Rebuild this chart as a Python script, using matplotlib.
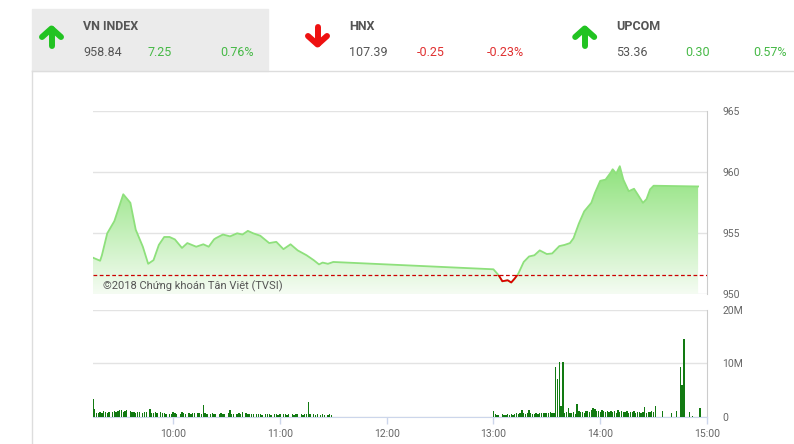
import numpy as np
import matplotlib.pyplot as plt
from matplotlib.colors import LinearSegmentedColormap
from matplotlib.patches import Rectangle
from matplotlib.lines import Line2D

plt.rcParams['font.family'] = ['Roboto', 'DejaVu Sans']

# --- header: chỉ số
idx_names = ['VN INDEX', 'HNX', 'UPCOM']
idx_values = ['958.84', '107.39', '53.36']
idx_changes = ['7.25', '-0.25', '0.30']
idx_pcts = ['0.76%', '-0.23%', '0.57%']
idx_up = [True, False, True]

prev_close = 951.59

# --- VN-Index trong phiên
price_times = ['09:15', '09:19', '09:20', '09:23', '09:27', '09:32', '09:36', '09:39',
               '09:43', '09:46', '09:49', '09:52', '09:55', '09:58', '10:01', '10:05',
               '10:08', '10:13', '10:17', '10:20', '10:23', '10:24', '10:28', '10:32',
               '10:36', '10:39', '10:42', '10:45', '10:49', '10:54', '10:58', '11:02',
               '11:06', '11:10', '11:15', '11:19', '11:22', '11:24', '11:27', '11:30',
               '13:00', '13:03', '13:05', '13:08', '13:10', '13:12', '13:14', '13:17',
               '13:20', '13:23', '13:26', '13:30', '13:33', '13:37', '13:40', '13:43',
               '13:45', '13:48', '13:51', '13:55', '13:57', '14:00', '14:03', '14:06',
               '14:07', '14:09', '14:11', '14:13', '14:16', '14:19', '14:21', '14:24',
               '14:26', '14:28', '14:30', '14:55']
price_values = [953.0, 952.75, 953.2, 955.0, 956.0, 958.2, 957.5, 955.3,
                953.9, 952.5, 952.8, 954.05, 954.7, 954.7, 954.5, 953.8,
                954.2, 953.9, 954.1, 953.9, 954.5, 954.6, 954.9, 954.75,
                955.0, 954.9, 955.2, 955.0, 954.8, 954.2, 954.3, 953.7,
                954.1, 953.6, 953.2, 952.8, 952.45, 952.6, 952.5, 952.65,
                952.05, 951.55, 951.07, 951.15, 950.97, 951.3, 951.7, 952.65,
                953.1, 953.2, 953.6, 953.3, 953.35, 953.95, 954.05, 954.2,
                954.6, 955.8, 956.8, 957.5, 958.3, 959.3, 959.4, 960.0,
                960.25, 959.9, 960.5, 959.4, 958.45, 958.65, 958.2, 957.5,
                957.8, 958.6, 958.9, 958.84]

# --- khối lượng (triệu cp), mỗi phút
vol_am_start = '09:15'
vol_am = [3.3, 1.4, 0.75, 0.75, 0.9, 0.75, 1.0, 0.8, 0.7, 0.9, 0, 0.8, 1.0, 0.85, 1.05,
          1.2, 1.25, 0.85, 1.1, 1.25, 0, 1.0, 0.8, 0.8, 0.7, 0.85, 0.8, 0, 0.7, 0.85,
          0.9, 0, 1.4, 0.6, 0.6, 0.85, 0.6, 0, 0.8, 0.6, 0.75, 0.55, 0, 0.55, 0.45,
          0.95, 0.6, 0.55, 0, 0.55, 0.8, 0.6, 0.55, 0, 0.75, 0.5, 0.6, 0.75, 0, 0.7,
          0.6, 0.5, 2.2, 0.6, 0.5, 0, 0.55, 0.6, 0.5, 0.45, 0, 0.55, 0.6, 0.5, 0.55,
          0, 0.6, 1.3, 0.5, 0.55, 0, 0.5, 0.6, 0.45, 0.8, 0, 0.6, 0.5, 0.45, 0.55,
          0.5, 0, 0.55, 0.45, 0.5, 0.4, 0, 0.5, 0.45, 0.55, 0.4, 0, 0.45, 0.5, 0.4,
          0.5, 0, 0.45, 0.55, 0.4, 0.45, 0, 0.5, 0.4, 0.45, 0.5, 0, 0.45, 0.4, 0.5,
          0.55, 2.7, 0.5, 0, 0.45, 0.4, 0.45, 0, 0.4, 0.45, 0.4, 0, 0.4, 0.45, 0.4]
vol_pm_start = '13:00'
vol_pm = [1.0, 0.5, 0.3, 0.4, 0, 0.5, 0.3, 0.4, 0.5, 0.4, 0.45, 0.4, 0.5, 0.6, 0.5,
          0.6, 1.2, 0.7, 0.5, 0.6, 1.2, 0.6, 0.5, 0.45, 0.6, 0.5, 0.7, 0.6, 0.75, 0.6,
          0.7, 0.6, 0.9, 0.7, 0.6, 9.2, 7.1, 10.3, 2.0, 10.3, 0.6, 0.8, 1.7, 0.6, 0.7,
          0.9, 0.5, 2.4, 1.0, 0.8, 0.9, 0.7, 1.0, 1.1, 0.9, 1.2, 1.7, 1.4, 1.0, 1.1,
          0.9, 1.2, 1.0, 0.8, 1.0, 0.9, 1.1, 0.8, 1.0, 0.7, 1.2, 0.9, 1.0, 0.8, 0.9,
          1.0, 0.7, 0.9, 0.8, 1.0, 0.7, 0.9, 0.8, 0.6, 0.9, 1.8, 0.7, 0.8, 0.9, 1.0,
          0.8, 2.0]
vol_late_times = ['14:35', '14:40', '14:43', '14:45', '14:46', '14:47', '14:50', '14:52', '14:56']
vol_late = [1.1, 0.6, 1.0, 9.2, 6.0, 14.6, 0.9, 0.2, 1.7]

x_ticks = ['10:00', '11:00', '12:00', '13:00', '14:00', '15:00']


def to_h(s):
    h, m = s.split(':')
    return int(h) + int(m) / 60


W, H = 794, 444
def fx(x):
    return x / W
def fy(y):
    return 1 - y / H


fig = plt.figure(figsize=(W / 100, H / 100), dpi=100)

# -------- header
fig.patches.append(Rectangle((fx(32), fy(71)), 236 / W, 62 / H, transform=fig.transFigure,
                             color='#ebebeb', zorder=0))
fig.lines.append(Line2D([fx(32), fx(794)], [fy(71), fy(71)], transform=fig.transFigure,
                        color='#dddddd', lw=1))
fig.lines.append(Line2D([fx(32), fx(32)], [fy(71), fy(444)], transform=fig.transFigure,
                        color='#dddddd', lw=1))

arrow_x = [51.5, 317.5, 584.7]
name_x = [83, 349, 616]
chg_x = [148, 417, 685]
pct_x = [220, 487, 753]
for i in range(3):
    ax0 = arrow_x[i]
    if idx_up[i]:
        col = '#22c322'
        head = [(ax0 - 9.5, 37), (ax0, 28.5), (ax0 + 9.5, 37)]
        shaft = [(ax0, 29), (ax0, 46.5)]
        txt_col = '#46b946'
    else:
        col = '#ee1111'
        head = [(ax0 - 9.5, 36), (ax0, 44.5), (ax0 + 9.5, 36)]
        shaft = [(ax0, 27.5), (ax0, 44)]
        txt_col = '#e03030'
    for seg in (head, shaft):
        xs = [fx(p[0]) for p in seg]
        ys = [fy(p[1]) for p in seg]
        fig.lines.append(Line2D(xs, ys, transform=fig.transFigure, color=col, lw=4.3,
                                solid_capstyle='round', solid_joinstyle='round'))
    fig.text(fx(name_x[i]), fy(27), idx_names[i], fontsize=9, fontweight='bold',
             color='#555555', va='center', ha='left')
    fig.text(fx(name_x[i]), fy(53), idx_values[i], fontsize=9, color='#555555',
             va='center', ha='left')
    fig.text(fx(chg_x[i]), fy(53), idx_changes[i], fontsize=9, color=txt_col,
             va='center', ha='left')
    fig.text(fx(pct_x[i]), fy(53), idx_pcts[i], fontsize=9, color=txt_col,
             va='center', ha='left')

# -------- price chart
x0, x1 = 9.25, 15.0
ax1 = fig.add_axes([fx(93), fy(294.3), 614 / W, 183 / H])
ph = np.array([to_h(t) for t in price_times])
pv = np.array(price_values)

fill = ax1.fill_between(ph, pv, 950, color='none', lw=0)
grad = np.linspace(0, 1, 256).reshape(-1, 1)
cmap = LinearSegmentedColormap.from_list('g', ['#f5fcf3', '#8ee27b'])
im = ax1.imshow(grad, extent=[x0, x1, 950, 960.6], origin='lower', aspect='auto',
                cmap=cmap, zorder=1)
im.set_clip_path(fill.get_paths()[0], transform=ax1.transData)

ax1.plot(ph, pv, color='#8ee07c', lw=1.3, zorder=3)
red = ax1.plot(ph, pv, color='#dd0000', lw=1.3, zorder=4)[0]
clip = Rectangle((x0, 949), x1 - x0, prev_close - 949, transform=ax1.transData)
red.set_clip_path(clip)
ax1.axhline(prev_close, color='#cc0000', lw=0.9, ls=(0, (3, 2)), zorder=5)

ax1.set_xlim(x0, x1)
ax1.set_ylim(950, 965)
ax1.set_yticks([950, 955, 960, 965])
ax1.set_xticks([])
ax1.yaxis.tick_right()
ax1.tick_params(axis='y', length=0, pad=11, labelsize=7.5, labelcolor='#666666')
ax1.grid(axis='y', color='#e3e3e3', lw=1)
ax1.set_axisbelow(True)
for s in ['left', 'top', 'bottom']:
    ax1.spines[s].set_visible(False)
ax1.spines['right'].set_color('#cccccc')
ax1.text(0.0165, 0.044, '©2018 Chứng khoán Tân Việt (TVSI)', transform=ax1.transAxes,
         fontsize=8, color='#555555', va='center', ha='left', zorder=6)

# -------- volume chart
ax2 = fig.add_axes([fx(93), fy(416.7), 614 / W, 107.1 / H])
am_t = to_h(vol_am_start) + np.arange(len(vol_am)) / 60
pm_t = to_h(vol_pm_start) + np.arange(len(vol_pm)) / 60
late_t = np.array([to_h(t) for t in vol_late_times])
bw = 0.75 / 60
for t, v in ((am_t, vol_am), (pm_t, vol_pm), (late_t, vol_late)):
    ax2.bar(t, v, width=bw, color='#127a12', lw=0, zorder=3)

ax2.set_xlim(x0, x1)
ax2.set_ylim(0, 20)
ax2.set_yticks([0, 10, 20])
ax2.set_yticklabels(['0', '10M', '20M'])
ax2.yaxis.tick_right()
ax2.tick_params(axis='y', length=0, pad=11, labelsize=7.5, labelcolor='#666666')
ax2.set_xticks([to_h(t) for t in x_ticks])
ax2.set_xticklabels(x_ticks)
ax2.tick_params(axis='x', length=5, width=1, color='#ccd6eb', pad=4, labelsize=7.5,
                labelcolor='#666666')
ax2.grid(axis='y', color='#e3e3e3', lw=1)
ax2.set_axisbelow(True)
for s in ['left', 'top']:
    ax2.spines[s].set_visible(False)
ax2.spines['right'].set_color('#cccccc')
ax2.spines['bottom'].set_color('#ccd6eb')

fig.savefig('out.png', dpi=100)
